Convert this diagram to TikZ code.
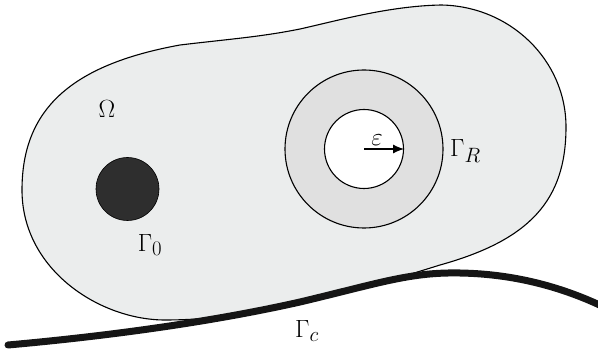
\documentclass[tikz,border=0pt]{standalone}
\usetikzlibrary{arrows.meta}
\definecolor{blobfill}{HTML}{EBEDED}
\definecolor{ringfill}{HTML}{E0E0E0}
\definecolor{diskfill}{HTML}{2E2E2E}
\definecolor{curvecol}{HTML}{151515}
\begin{document}
\begin{tikzpicture}[x=1pt,y=-1pt,
  lbl/.style={font=\fontsize{28}{32}\selectfont, inner sep=0pt},
  ringnode/.style={circle, draw=black, line width=1.1pt, inner sep=0pt}]
\useasboundingbox (0,0) rectangle (598,350);
\clip (0,0) rectangle (598,350);
% domain Omega
\draw[fill=blobfill, line width=1.1pt]
  (22,190) .. controls (22,110) and (70,65) .. (180,45)
  .. controls (230,39) and (260,37) .. (300,29)
  .. controls (340,20) and (390,6) .. (441,5)
  .. controls (510,6) and (566,60) .. (566,127)
  .. controls (566,200) and (530,240) .. (440,265)
  .. controls (360,290) and (260,320) .. (165,320)
  .. controls (100,320) and (22,270) .. (22,190) -- cycle;
% contact curve Gamma_c
\draw[curvecol, line width=7pt, line cap=round]
  (8,345) .. controls (120,335) and (220,320) .. (300,302)
  .. controls (380,283) and (410,272) .. (460,273)
  .. controls (520,274) and (570,290) .. (610,310);
% annulus
\node[ringnode, fill=ringfill, minimum size=158pt] (outer) at (364,149) {};
\node[ringnode, fill=white, minimum size=79pt] (inner) at (364,149) {};
\draw[line width=1.2pt, -{Latex[length=11pt,width=9pt]}] (inner.center) -- (inner.east);
% obstacle
\node[circle, draw=black, line width=0.6pt, fill=diskfill, inner sep=0pt, minimum size=63pt] (disk) at (127.5,189) {};
% labels
\node[lbl] (eps) at (377,140) {$\varepsilon$};
\node[lbl, anchor=west] (gR) at (450,151) {$\Gamma_R$};
\node[lbl] (om) at (107,109) {$\Omega$};
\node[lbl] (g0) at (150,245) {$\Gamma_0$};
\node[lbl] (gc) at (307,331) {$\Gamma_c$};
\end{tikzpicture}
\end{document}
